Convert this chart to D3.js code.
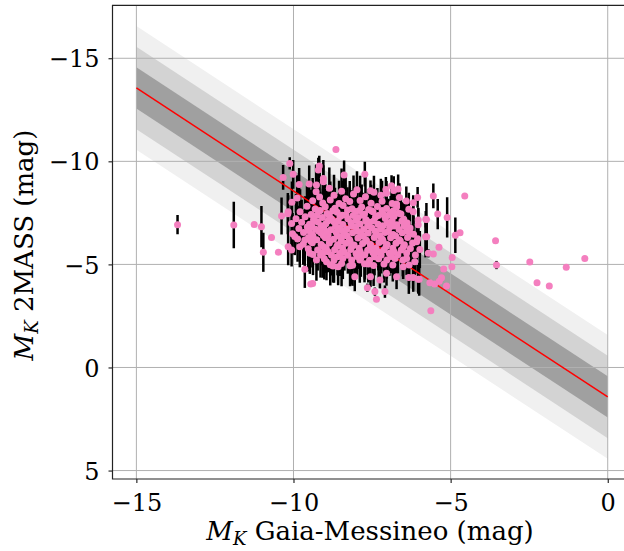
<!DOCTYPE html>
<html><head><meta charset="utf-8">
<script src="https://cdn.jsdelivr.net/npm/d3@7"></script>
<style>body{margin:0;background:#fff}svg{display:block}</style>
</head><body><svg id="c" width="624" height="551"></svg>
<script>
const xTicks=[-15,-10,-5,0];
const yTicks=[-15,-10,-5,0,5];
const fitX=[-15,0];
const fitY=[-13.56,1.43];
const bandHalfWidths=[3,2,1];
const bandColors=['#f0f0f0','#d3d3d3','#a0a0a0'];
// [MK Gaia-Messineo, MK 2MASS, error]
const outliers=[
[-13.69,-6.93,0.47],[-11.90,-6.91,1.13],[-11.25,-6.94,0],[-11.02,-6.83,1.0],[-10.96,-5.59,0.95],
[-10.70,-6.31,0.1],[-10.48,-5.59,0.1],[-8.65,-10.58,0.1],[-4.55,-8.32,0.15],[-5.11,-7.28,0.98],
[-4.85,-6.41,0.86],[-4.70,-6.54,0.1],[-3.57,-6.15,0.1],[-3.54,-4.97,0.2],[-2.48,-5.12,0.12],
[-2.25,-4.11,0.12],[-1.86,-3.95,0.1],[-1.32,-4.86,0.12],[-0.73,-5.29,0.12],[-5.63,-2.75,0.1],
[-5.41,-7.44,0.73],[-6.19,-7.99,0.3],[-5.37,-5.83,0.1],[-4.95,-5.34,0.1],[-4.96,-4.89,0.1],
[-5.22,-4.78,0.1],[-5.29,-4.35,0.1],[-5.13,-3.95,0.1],[-5.36,-4.18,0.1],[-5.51,-4.05,0.1],
[-5.66,-4.11,0.1],[-6.00,-4.28,0.8],[-6.33,-4.37,0.8],[-5.55,-5.50,0.1],[-5.71,-5.54,0.2],
[-5.80,-6.34,1.0],[-5.79,-7.19,0.4]
];
const edgeStars=[
[-10.12,-9.90,0.3],[-9.18,-9.77,0.5],[-9.21,-9.58,0.6],[-10.01,-9.37,0.7],[-10.33,-9.22,0.6],
[-8.39,-9.34,0.7],[-7.73,-9.38,0.6],[-9.05,-9.17,0.9],[-9.05,-9.01,0.8],[-9.50,-8.90,0.9],
[-9.27,-8.85,1.0],[-9.82,-8.88,0.8],[-7.55,-8.57,0.5],[-6.88,-8.82,0.5],[-7.06,-8.64,0.6],
[-6.67,-8.66,0.7],[-7.04,-8.45,0.6],[-5.55,-8.32,0.6],[-6.05,-8.25,0.5],[-6.72,-7.93,0.8],
[-6.65,-7.48,0.9],[-6.03,-7.15,0.6],[-5.77,-7.18,0.8],[-10.38,-7.35,0.9],[-10.17,-7.56,0.8],
[-5.76,-6.34,0.9],[-6.30,-6.54,1.0],[-6.08,-6.10,0.9],[-9.64,-4.76,0.9],[-9.45,-4.05,0.1],
[-9.39,-4.08,0.1],[-8.05,-4.40,0.7],[-7.65,-3.87,0.2],[-7.41,-3.68,0.2],[-7.36,-3.31,0.1],
[-7.09,-3.68,0.3],[-6.72,-4.40,0.6],[-6.03,-4.28,0.7],[-6.19,-4.37,0.7],[-6.32,-4.97,0.8],
[-8.95,-5.13,0.9],[-8.74,-4.92,0.8],[-8.58,-4.89,0.9],[-8.20,-4.94,1.0],[-7.89,-5.21,1.1],
[-7.62,-5.02,0.9],[-7.55,-4.40,0.5],[-7.25,-4.24,0.4],[-7.04,-4.57,0.6],[-10.06,-5.70,0.8],
[-10.17,-5.86,0.9],[-9.80,-5.86,1.0],[-9.64,-6.18,1.0],[-9.96,-6.35,0.9],[-9.48,-5.54,1.0],
[-9.27,-5.21,1.0],[-9.14,-5.46,1.1],[-6.14,-5.13,0.7],[-6.40,-5.29,0.8],[-6.51,-4.89,0.6]
];
const coreStars=[
[-9.28,-8.52,1.3],[-8.86,-8.70,1.0],[-8.47,-8.55,1.1],[-7.98,-8.62,0.9],[-7.44,-8.50,0.8],[-6.81,-8.58,0.7],
[-9.88,-8.22,1.1],[-9.17,-8.27,1.3],[-8.71,-8.35,1.0],[-8.34,-8.19,1.1],[-8.09,-8.41,0.9],[-7.71,-8.28,1.0],[-7.22,-8.36,0.8],[-6.63,-8.24,0.7],
[-10.05,-8.02,1.0],[-9.39,-8.09,1.1],[-9.07,-7.98,1.3],[-8.83,-8.12,0.9],[-8.55,-7.96,1.1],[-8.21,-8.05,1.0],[-7.88,-8.10,1.2],[-7.53,-7.97,0.9],[-7.18,-8.06,1.0],[-6.86,-7.95,0.8],[-6.41,-8.08,0.7],
[-9.57,-7.82,1.0],[-9.31,-7.69,1.2],[-8.99,-7.80,1.1],[-8.68,-7.72,1.0],[-8.42,-7.86,1.2],[-8.14,-7.70,0.9],[-7.83,-7.78,1.1],[-7.61,-7.66,1.0],[-7.33,-7.81,0.9],[-7.04,-7.71,1.0],[-6.72,-7.79,0.8],[-6.33,-7.68,0.8],
[-10.18,-7.46,1.0],[-9.79,-7.55,1.1],[-9.44,-7.42,1.2],[-9.19,-7.58,1.0],[-8.93,-7.47,1.1],[-8.61,-7.53,0.9],[-8.33,-7.41,1.0],[-8.02,-7.57,1.2],[-7.74,-7.45,1.0],[-7.47,-7.56,1.1],[-7.15,-7.43,0.9],[-6.91,-7.52,0.8],[-6.58,-7.44,0.9],[-6.19,-7.55,0.8],
[-9.92,-7.22,1.2],[-9.63,-7.31,1.0],[-9.36,-7.18,1.1],[-9.08,-7.27,0.9],[-8.79,-7.20,1.2],[-8.52,-7.33,1.0],[-8.27,-7.21,1.1],[-7.95,-7.28,0.9],[-7.69,-7.17,1.0],[-7.39,-7.30,1.2],[-7.08,-7.23,0.9],[-6.80,-7.34,1.0],[-6.49,-7.19,0.8],
[-10.06,-6.98,1.0],[-9.74,-7.04,1.1],[-9.49,-6.95,1.2],[-9.22,-7.06,1.0],[-8.97,-6.97,0.9],[-8.71,-7.07,1.1],[-8.43,-6.94,1.0],[-8.17,-7.03,1.2],[-7.88,-6.96,0.9],[-7.58,-7.05,1.0],[-7.31,-6.95,1.1],[-7.01,-7.02,0.9],[-6.71,-6.93,0.8],[-6.38,-7.01,0.9],[-6.03,-6.92,0.8],
[-9.83,-6.74,1.1],[-9.56,-6.81,1.0],[-9.30,-6.70,1.2],[-9.04,-6.79,1.0],[-8.81,-6.68,1.1],[-8.55,-6.77,0.9],[-8.30,-6.71,1.0],[-8.02,-6.82,1.2],[-7.77,-6.69,1.0],[-7.51,-6.78,0.9],[-7.23,-6.72,1.1],[-6.94,-6.80,1.0],[-6.64,-6.69,0.8],[-6.29,-6.77,0.9],
[-10.03,-6.49,1.0],[-9.68,-6.55,1.1],[-9.41,-6.45,1.2],[-9.13,-6.53,1.0],[-8.90,-6.44,0.9],[-8.64,-6.56,1.1],[-8.38,-6.47,1.0],[-8.12,-6.54,1.2],[-7.85,-6.43,0.9],[-7.62,-6.52,1.0],[-7.37,-6.46,1.1],[-7.09,-6.55,0.9],[-6.83,-6.45,1.0],[-6.54,-6.53,0.8],[-6.18,-6.46,0.9],
[-9.87,-6.23,1.1],[-9.52,-6.31,1.0],[-9.26,-6.20,1.2],[-8.99,-6.29,0.9],[-8.73,-6.22,1.0],[-8.47,-6.32,1.1],[-8.22,-6.21,1.0],[-7.95,-6.28,1.2],[-7.69,-6.19,0.9],[-7.43,-6.30,1.0],[-7.17,-6.22,1.1],[-6.91,-6.29,0.9],[-6.63,-6.20,1.0],[-6.37,-6.31,0.8],[-6.05,-6.24,0.9],
[-9.69,-5.98,1.0],[-9.40,-6.05,1.2],[-9.12,-5.96,1.0],[-8.86,-6.04,1.1],[-8.59,-5.95,0.9],[-8.33,-6.03,1.0],[-8.07,-5.94,1.2],[-7.80,-6.02,0.9],[-7.55,-5.97,1.0],[-7.28,-6.06,1.1],[-7.02,-5.96,0.9],[-6.74,-6.03,1.0],[-6.47,-5.95,0.8],[-6.21,-6.04,0.9],
[-9.53,-5.76,1.1],[-9.23,-5.70,1.0],[-8.96,-5.79,1.2],[-8.69,-5.71,0.9],[-8.44,-5.80,1.0],[-8.18,-5.72,1.1],[-7.91,-5.78,1.0],[-7.64,-5.69,1.2],[-7.38,-5.79,0.9],[-7.12,-5.71,1.0],[-6.84,-5.78,1.1],[-6.57,-5.70,0.9],[-6.28,-5.77,0.8],[-5.98,-5.72,0.9],
[-9.38,-5.48,1.0],[-9.07,-5.55,1.2],[-8.79,-5.46,1.0],[-8.52,-5.54,1.1],[-8.27,-5.45,0.9],[-8.01,-5.53,1.0],[-7.73,-5.47,1.2],[-7.47,-5.56,1.0],[-7.21,-5.46,0.9],[-6.95,-5.54,1.1],[-6.68,-5.47,0.9],[-6.40,-5.55,0.8],[-6.12,-5.46,0.9],
[-9.02,-5.27,1.0],[-8.71,-5.21,1.1],[-8.43,-5.29,1.0],[-8.15,-5.22,1.2],[-7.86,-5.30,0.9],[-7.58,-5.20,1.0],[-7.29,-5.28,1.1],[-7.03,-5.21,0.9],[-6.77,-5.29,1.0],[-6.52,-5.22,0.8],
[-8.83,-4.98,1.0],[-8.47,-5.04,1.1],[-8.12,-4.96,1.0],[-7.74,-5.03,0.9],[-7.45,-4.95,1.0],[-7.12,-5.02,0.9],[-6.84,-4.97,0.8]
];
const centreStars=[
[-9.15,-7.62,0.9],[-8.75,-7.60,1.0],[-8.28,-7.64,1.1],[-7.90,-7.62,0.9],[-7.52,-7.60,1.0],[-7.18,-7.62,0.8],[-6.82,-7.60,0.9],
[-9.25,-7.38,1.0],[-8.86,-7.36,1.1],[-8.45,-7.39,0.9],[-8.10,-7.37,1.0],[-7.80,-7.38,1.1],[-7.30,-7.37,0.9],[-6.98,-7.39,0.8],
[-9.35,-7.10,1.1],[-8.90,-7.12,0.9],[-8.58,-7.10,1.0],[-8.00,-7.13,1.1],[-7.70,-7.11,0.9],[-7.44,-7.12,1.0],[-6.86,-7.10,0.8],[-6.55,-7.11,0.9],
[-9.42,-6.86,1.0],[-9.12,-6.88,1.1],[-8.66,-6.85,0.9],[-8.15,-6.87,1.0],[-7.64,-6.86,1.1],[-7.15,-6.88,0.9],[-6.80,-6.86,0.8],[-6.48,-6.87,0.9],
[-9.50,-6.63,1.0],[-9.20,-6.62,0.9],[-8.95,-6.60,1.1],[-8.45,-6.63,1.0],[-7.96,-6.61,0.9],[-7.40,-6.62,1.0],[-6.98,-6.60,1.1],[-6.40,-6.62,0.8],
[-9.38,-6.38,1.1],[-9.05,-6.40,1.0],[-8.60,-6.38,0.9],[-8.30,-6.39,1.0],[-7.78,-6.37,1.1],[-7.25,-6.39,0.9],[-6.75,-6.38,0.8],
[-9.45,-6.14,1.0],[-8.85,-6.15,1.1],[-8.48,-6.13,0.9],[-8.20,-6.12,1.0],[-7.68,-6.14,0.9],[-7.15,-6.13,1.0],[-6.60,-6.14,0.8],
[-9.05,-5.86,1.0],[-8.62,-5.87,0.9],[-8.15,-5.86,1.1],[-7.55,-5.85,1.0],[-7.05,-5.87,0.9],[-6.50,-5.86,0.8],
[-8.90,-5.62,1.0],[-8.38,-5.60,0.9],[-7.88,-5.62,1.0],[-7.30,-5.61,0.9],[-6.80,-5.62,0.8],
[-8.60,-5.37,0.9],[-7.98,-5.38,1.0],[-7.42,-5.37,0.9],[-6.90,-5.38,0.8]
];

const svg=d3.select('#c');
const L=112.5,T=5.3,B=479,R=631.3;
const x=d3.scaleLinear().domain([-15.76,0.75]).range([L,R]);
const y=d3.scaleLinear().domain([-17.57,5.41]).range([T,B]);
const font='"DejaVu Serif", serif';
const fmt=d=>d<0?'\u2212'+Math.abs(d):String(d);

svg.append('defs').append('clipPath').attr('id','clip')
  .append('rect').attr('x',L).attr('y',T).attr('width',R-L).attr('height',B-T);
const plot=svg.append('g').attr('clip-path','url(#clip)');

const fitPts=fitX.map((v,i)=>({x:v,y:fitY[i]}));
bandHalfWidths.forEach((w,i)=>{
  const area=d3.area().x(d=>x(d.x)).y0(d=>y(d.y-w)).y1(d=>y(d.y+w));
  plot.append('path').datum(fitPts).attr('d',area).attr('fill',bandColors[i]);
});
plot.selectAll('.gx').data(xTicks).enter().append('line')
  .attr('x1',d=>x(d)).attr('x2',d=>x(d)).attr('y1',T).attr('y2',B)
  .attr('stroke','#b0b0b0').attr('stroke-width',1);
plot.selectAll('.gy').data(yTicks).enter().append('line')
  .attr('y1',d=>y(d)).attr('y2',d=>y(d)).attr('x1',L).attr('x2',R)
  .attr('stroke','#b0b0b0').attr('stroke-width',1);

const stars=outliers.concat(edgeStars,coreStars,centreStars);
plot.append('g').selectAll('line').data(stars).enter().append('line')
  .attr('x1',d=>x(d[0])).attr('x2',d=>x(d[0]))
  .attr('y1',d=>y(d[1]-d[2])).attr('y2',d=>y(d[1]+d[2]))
  .attr('stroke','#000').attr('stroke-width',2.5);
plot.append('path').datum(fitPts)
  .attr('d',d3.line().x(d=>x(d.x)).y(d=>y(d.y)))
  .attr('stroke','#ff0000').attr('stroke-width',1.5).attr('fill','none');
plot.append('g').selectAll('circle').data(stars).enter().append('circle')
  .attr('cx',d=>x(d[0])).attr('cy',d=>y(d[1])).attr('r',3.5)
  .attr('fill','#f47fbf');

const ax=svg.append('g').attr('transform',`translate(0,${B})`)
  .call(d3.axisBottom(x).tickValues(xTicks).tickSize(4).tickFormat(fmt));
ax.select('.domain').remove();
ax.selectAll('text').attr('y',32).attr('dy',0).attr('font-family',font).attr('font-size',24).attr('fill','#000');
const ay=svg.append('g').attr('transform',`translate(${L},0)`)
  .call(d3.axisLeft(y).tickValues(yTicks).tickSize(4).tickFormat(fmt));
ay.select('.domain').remove();
ay.selectAll('text').attr('x',-13).attr('dy','0.36em').attr('font-family',font).attr('font-size',24).attr('fill','#000');

svg.append('path').attr('d',`M${R},${T}H${L}V${B}H${R}`)
  .attr('fill','none').attr('stroke','#222').attr('stroke-width',1.2);

const xl=svg.append('text').attr('x',370).attr('y',540).attr('text-anchor','middle')
  .attr('font-family',font).attr('font-size',26).attr('fill','#000');
xl.append('tspan').attr('font-style','italic').text('M');
xl.append('tspan').attr('font-style','italic').attr('font-size',18).attr('dy',5).text('K');
xl.append('tspan').attr('dy',-5).text(' Gaia-Messineo (mag)');
const yl=svg.append('text').attr('transform',`translate(32.5,245) rotate(-90)`).attr('text-anchor','middle')
  .attr('font-family',font).attr('font-size',26).attr('fill','#000');
yl.append('tspan').attr('font-style','italic').text('M');
yl.append('tspan').attr('font-style','italic').attr('font-size',18).attr('dy',5).text('K');
yl.append('tspan').attr('dy',-5).text(' 2MASS (mag)');
</script></body></html>
